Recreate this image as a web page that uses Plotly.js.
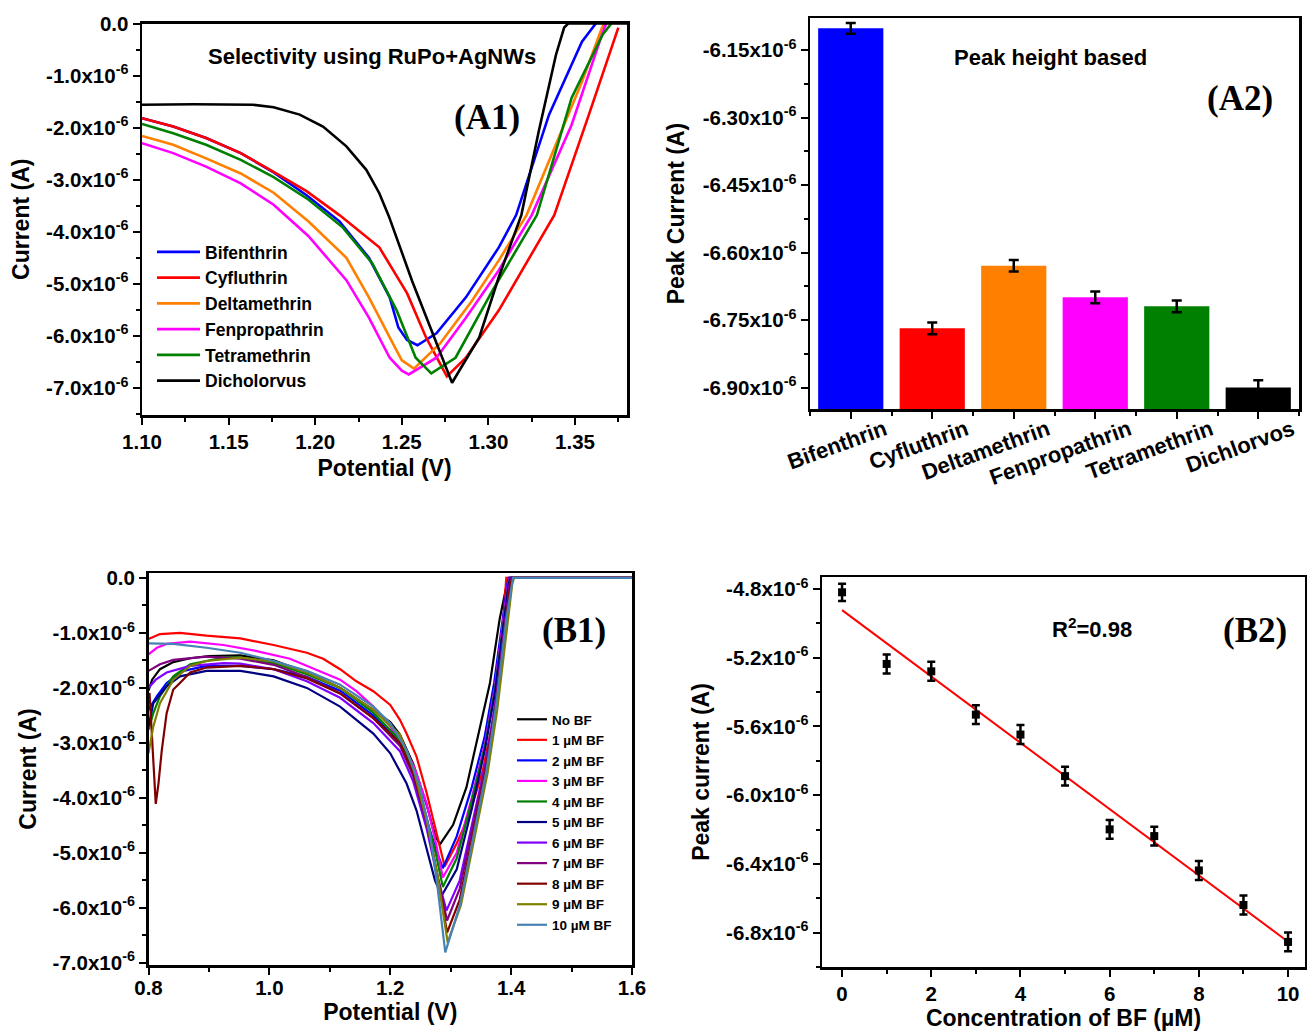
<!DOCTYPE html>
<html>
<head>
<meta charset="utf-8">
<script src="https://cdn.plot.ly/plotly-3.0.1.min.js"></script>
<style>
html,body{margin:0;padding:0;background:#fff;}
#chart{width:1307px;height:1031px;}
</style>
</head>
<body>
<div id="chart"></div>
<script>
// ================= DATA =================
// Panel A1: DPV curves (Potential in V, Current in units of 1e-6 A)
const a1Names = ['Bifenthrin','Cyfluthrin','Deltamethrin','Fenpropathrin','Tetramethrin','Dicholorvus'];
const a1Colors = ['#0000FF','#FF0000','#FF8000','#FF00FF','#008000','#000000'];
const a1_bif_V = [1.10,1.118,1.137,1.157,1.176,1.195,1.214,1.231,1.243,1.248,1.253,1.259,1.270,1.287,1.306,1.316,1.335,1.354,1.362];
const a1_bif_I = [-1.82,-1.98,-2.20,-2.49,-2.86,-3.30,-3.80,-4.50,-5.26,-5.84,-6.08,-6.18,-5.95,-5.26,-4.30,-3.68,-1.75,-0.35,0];
const a1_cyf_V = [1.10,1.118,1.137,1.157,1.176,1.195,1.214,1.225,1.237,1.253,1.264,1.276,1.287,1.306,1.338,1.358,1.375];
const a1_cyf_I = [-1.82,-1.98,-2.20,-2.49,-2.85,-3.22,-3.68,-3.97,-4.30,-5.18,-6.03,-6.78,-6.42,-5.51,-3.68,-1.75,-0.08];
const a1_del_V = [1.10,1.118,1.137,1.157,1.176,1.196,1.218,1.231,1.243,1.250,1.257,1.272,1.290,1.306,1.322,1.354,1.3656,1.367];
const a1_del_I = [-2.16,-2.33,-2.59,-2.88,-3.25,-3.80,-4.50,-5.26,-6.03,-6.47,-6.63,-6.15,-5.35,-4.55,-3.68,-1.12,-0.08,0];
const a1_fen_V = [1.10,1.118,1.137,1.157,1.176,1.196,1.218,1.231,1.243,1.250,1.254,1.270,1.287,1.306,1.325,1.348,1.3656,1.368];
const a1_fen_I = [-2.30,-2.49,-2.75,-3.07,-3.48,-4.08,-4.93,-5.65,-6.42,-6.67,-6.74,-6.42,-5.65,-4.74,-3.68,-1.95,-0.21,0];
const a1_tet_V = [1.10,1.118,1.137,1.157,1.176,1.196,1.216,1.233,1.247,1.258,1.267,1.281,1.302,1.328,1.348,1.366,1.371];
const a1_tet_I = [-1.93,-2.11,-2.33,-2.62,-2.95,-3.38,-3.92,-4.61,-5.51,-6.42,-6.72,-6.42,-5.15,-3.68,-1.43,-0.21,0];
const a1_dic_V = [1.10,1.13,1.164,1.176,1.191,1.2045,1.218,1.2295,1.237,1.2425,1.256,1.270,1.279,1.2947,1.306,1.319,1.329,1.339,1.3437,1.346,1.38];
const a1_dic_I = [-1.56,-1.55,-1.56,-1.61,-1.75,-1.98,-2.36,-2.81,-3.26,-3.70,-4.95,-6.15,-6.90,-6.03,-4.87,-3.68,-2.08,-0.60,-0.08,0,0];

// Panel A2: peak currents (units of 1e-6 A)
const a2Categories = ['Bifenthrin','Cyfluthrin','Deltamethrin','Fenpropathrin','Tetramethrin','Dichlorvos'];
const a2Values = [-6.102,-6.768,-6.629,-6.699,-6.719,-6.899];
const a2Errors = [0.012,0.013,0.013,0.013,0.013,0.016];
const a2Colors = ['#0000FF','#FF0000','#FF8000','#FF00FF','#008000','#000000'];

// Panel B1: DPV curves at different BF concentrations
const b1Names = ['No BF','1 µM BF','2 µM BF','3 µM BF','4 µM BF','5 µM BF','6 µM BF','7 µM BF','8 µM BF','9 µM BF','10 µM BF'];
const b1Colors = ['#000000','#FF0000','#0000FF','#FF00FF','#008000','#000080','#8000FF','#800080','#800000','#808000','#4682B4'];
const b1_0_V = [0.800,0.806,0.819,0.841,0.869,0.90,0.952,1.007,1.062,1.117,1.172,1.20,1.216,1.238,1.260,1.274,1.282,1.304,1.326,1.348,1.365,1.381,1.395,1.60];
const b1_0_I = [-2.05,-1.85,-1.66,-1.53,-1.46,-1.42,-1.41,-1.50,-1.72,-2.00,-2.40,-2.62,-2.85,-3.38,-4.12,-4.67,-4.85,-4.49,-3.81,-2.77,-1.91,-0.75,0,0];
const b1_1_V = [0.800,0.819,0.852,0.896,0.952,1.007,1.062,1.089,1.117,1.144,1.172,1.20,1.216,1.227,1.2435,1.260,1.276,1.290,1.309,1.331,1.353,1.370,1.381,1.389,1.392,1.60];
const b1_1_I = [-1.11,-1.02,-1.00,-1.05,-1.10,-1.22,-1.36,-1.47,-1.66,-1.88,-2.06,-2.31,-2.58,-2.83,-3.25,-3.90,-4.61,-5.25,-4.85,-4.30,-3.51,-2.59,-1.67,-0.45,0,0];
const b1_2_V = [0.800,0.814,0.830,0.858,0.896,0.952,1.007,1.062,1.117,1.172,1.216,1.238,1.260,1.276,1.287,1.310,1.335,1.356,1.372,1.385,1.394,1.397,1.60];
const b1_2_I = [-2.40,-2.15,-1.91,-1.69,-1.60,-1.60,-1.66,-1.80,-2.05,-2.50,-3.00,-3.55,-4.40,-4.95,-5.28,-4.70,-3.80,-2.90,-1.90,-0.80,-0.10,0,0];
const b1_3_V = [0.800,0.814,0.830,0.869,0.924,0.979,1.034,1.089,1.117,1.144,1.172,1.20,1.227,1.240,1.260,1.275,1.287,1.310,1.335,1.357,1.373,1.386,1.395,1.398,1.60];
const b1_3_I = [-1.39,-1.27,-1.20,-1.16,-1.22,-1.33,-1.47,-1.72,-1.85,-2.06,-2.34,-2.70,-3.16,-3.45,-4.10,-4.80,-5.45,-5.00,-4.00,-3.00,-2.00,-0.85,-0.10,0,0];
const b1_4_V = [0.800,0.808,0.819,0.841,0.869,0.924,0.952,1.007,1.062,1.117,1.172,1.216,1.238,1.260,1.276,1.287,1.310,1.335,1.357,1.373,1.386,1.396,1.399,1.60];
const b1_4_I = [-2.76,-2.46,-2.15,-1.79,-1.57,-1.45,-1.45,-1.55,-1.75,-2.00,-2.45,-2.95,-3.50,-4.35,-5.05,-5.62,-5.10,-4.05,-3.05,-2.05,-0.95,-0.10,0,0];
const b1_5_V = [0.800,0.808,0.830,0.852,0.896,0.952,1.007,1.062,1.117,1.172,1.20,1.227,1.2435,1.260,1.274,1.285,1.310,1.335,1.357,1.373,1.386,1.396,1.399,1.60];
const b1_5_I = [-2.70,-2.28,-1.97,-1.79,-1.69,-1.69,-1.79,-2.00,-2.34,-2.83,-3.19,-3.74,-4.23,-4.90,-5.50,-5.78,-5.30,-4.20,-3.10,-2.10,-0.95,-0.10,0,0];
const b1_6_V = [0.800,0.812,0.830,0.869,0.924,0.952,1.007,1.062,1.117,1.172,1.216,1.238,1.260,1.276,1.293,1.315,1.337,1.359,1.375,1.388,1.398,1.401,1.60];
const b1_6_I = [-2.00,-1.85,-1.72,-1.60,-1.55,-1.56,-1.66,-1.88,-2.18,-2.64,-3.15,-3.70,-4.55,-5.35,-6.05,-5.50,-4.40,-3.30,-2.20,-1.00,-0.10,0,0];
const b1_7_V = [0.800,0.819,0.841,0.896,0.952,1.007,1.062,1.117,1.172,1.216,1.238,1.260,1.276,1.294,1.315,1.337,1.359,1.375,1.388,1.398,1.401,1.60];
const b1_7_I = [-1.69,-1.57,-1.49,-1.43,-1.47,-1.58,-1.80,-2.10,-2.55,-3.05,-3.60,-4.45,-5.30,-6.23,-5.65,-4.50,-3.35,-2.25,-1.00,-0.10,0,0];
const b1_8_V = [0.8017,0.8083,0.812,0.8165,0.822,0.830,0.841,0.852,0.869,0.896,0.952,1.007,1.062,1.117,1.172,1.216,1.238,1.260,1.276,1.294,1.315,1.337,1.359,1.375,1.389,1.399,1.402,1.60];
const b1_8_I = [-2.09,-3.25,-4.11,-3.74,-3.13,-2.46,-2.03,-1.91,-1.72,-1.63,-1.60,-1.66,-1.83,-2.10,-2.55,-3.00,-3.55,-4.40,-5.30,-6.45,-5.85,-4.65,-3.45,-2.30,-1.00,-0.10,0,0];
const b1_9_V = [0.800,0.808,0.819,0.841,0.869,0.896,0.952,1.007,1.062,1.117,1.172,1.216,1.238,1.260,1.278,1.295,1.317,1.339,1.361,1.377,1.391,1.402,1.405,1.60];
const b1_9_I = [-3.19,-2.70,-2.28,-1.85,-1.60,-1.51,-1.45,-1.52,-1.72,-2.00,-2.40,-2.85,-3.45,-4.40,-5.40,-6.63,-5.95,-4.75,-3.55,-2.40,-1.05,-0.10,0,0];
const b1_10_V = [0.800,0.841,0.896,0.952,1.007,1.062,1.117,1.172,1.20,1.227,1.249,1.265,1.278,1.291,1.315,1.337,1.359,1.3755,1.392,1.403,1.60];
const b1_10_I = [-1.19,-1.20,-1.27,-1.36,-1.51,-1.69,-1.94,-2.34,-2.64,-3.13,-3.80,-4.60,-5.60,-6.81,-5.96,-4.73,-3.51,-2.28,-0.75,0,0];

// Panel B2: calibration (concentration in µM, peak current in 1e-6 A)
const b2Conc = [0,1,2,3,4,5,6,7,8,9,10];
const b2Peak = [-4.819,-5.236,-5.279,-5.531,-5.647,-5.889,-6.199,-6.238,-6.438,-6.639,-6.854];
const b2Err = [0.05,0.055,0.055,0.055,0.055,0.055,0.055,0.055,0.055,0.055,0.055];

// ================= BUILD =================
const W = 1307, H = 1031;
const FONT = 'Liberation Sans, Arial, sans-serif';
const SERIF = 'Liberation Serif, Times New Roman, serif';
const dx = (a, b) => [a / W, b / W];
const dy = (top, bottom) => [1 - bottom / H, 1 - top / H];
const sci = (v, d) => v === 0 ? '0.0' : v.toFixed(d) + 'x10<sup>-6</sup>';

const a1Sets = [[a1_bif_V,a1_bif_I],[a1_cyf_V,a1_cyf_I],[a1_del_V,a1_del_I],[a1_fen_V,a1_fen_I],[a1_tet_V,a1_tet_I],[a1_dic_V,a1_dic_I]];
const b1Sets = [[b1_0_V,b1_0_I],[b1_1_V,b1_1_I],[b1_2_V,b1_2_I],[b1_3_V,b1_3_I],[b1_4_V,b1_4_I],[b1_5_V,b1_5_I],[b1_6_V,b1_6_I],[b1_7_V,b1_7_I],[b1_8_V,b1_8_I],[b1_9_V,b1_9_I],[b1_10_V,b1_10_I]];

const traces = [];
a1Sets.forEach((s, i) => traces.push({
  type: 'scatter', mode: 'lines', x: s[0], y: s[1], name: a1Names[i],
  line: {color: a1Colors[i], width: 2.6}, xaxis: 'x', yaxis: 'y', legend: 'legend'
}));

const a2Range = [-6.947, -6.079];
const a2Idx = a2Categories.map((c, i) => i);
traces.push({
  type: 'bar', x: a2Idx, y: a2Values.map(v => v - a2Range[0]), base: a2Range[0],
  marker: {color: a2Colors, line: {width: 0}}, width: 0.8,
  xaxis: 'x2', yaxis: 'y2', showlegend: false, hoverinfo: 'skip'
});
traces.push({
  type: 'scatter', mode: 'markers', x: a2Idx, y: a2Values,
  marker: {size: 1, color: 'rgba(0,0,0,0)'},
  error_y: {type: 'data', array: a2Errors, color: '#000', thickness: 2.5, width: 5},
  xaxis: 'x2', yaxis: 'y2', showlegend: false
});

b1Sets.forEach((s, i) => traces.push({
  type: 'scatter', mode: 'lines', x: s[0], y: s[1], name: b1Names[i],
  line: {color: b1Colors[i], width: 2.2}, xaxis: 'x3', yaxis: 'y3', legend: 'legend2'
}));

// linear regression for B2 fit line
const n = b2Conc.length;
const mx = b2Conc.reduce((a, b) => a + b, 0) / n;
const my = b2Peak.reduce((a, b) => a + b, 0) / n;
let sxy = 0, sxx = 0;
for (let i = 0; i < n; i++) { sxy += (b2Conc[i] - mx) * (b2Peak[i] - my); sxx += (b2Conc[i] - mx) ** 2; }
const slope = sxy / sxx, icpt = my - slope * mx;
const fitX = [Math.min(...b2Conc), Math.max(...b2Conc)];
traces.push({
  type: 'scatter', mode: 'lines', x: fitX, y: fitX.map(x => icpt + slope * x),
  line: {color: '#FF0000', width: 2}, xaxis: 'x4', yaxis: 'y4', showlegend: false
});
traces.push({
  type: 'scatter', mode: 'markers', x: b2Conc, y: b2Peak,
  marker: {symbol: 'square', size: 8, color: '#000'},
  error_y: {type: 'data', array: b2Err, color: '#000', thickness: 2.5, width: 4},
  xaxis: 'x4', yaxis: 'y4', showlegend: false
});

const tickFont = {family: FONT, size: 20.5, color: '#000', weight: 'bold'};
const titleFont = {family: FONT, size: 23, color: '#000', weight: 'bold'};
function ax(extra) {
  return Object.assign({
    showline: true, linecolor: '#000', linewidth: 2.5, mirror: true,
    ticks: 'outside', ticklen: 7, tickwidth: 2, tickcolor: '#000',
    showgrid: false, zeroline: false, tickfont: tickFont, fixedrange: true
  }, extra);
}
function minor(tick0, dtick) {
  return {ticks: 'outside', ticklen: 4, tickwidth: 2, tickcolor: '#000', tick0: tick0, dtick: dtick, showgrid: false};
}

const a1Yticks = [0,-1,-2,-3,-4,-5,-6,-7];
const a2Yticks = [-6.15,-6.30,-6.45,-6.60,-6.75,-6.90];
const b2Yticks = [-4.8,-5.2,-5.6,-6.0,-6.4,-6.8];

const bigLabel = {family: SERIF, size: 35, color: '#000', weight: 'bold'};
const note = {family: FONT, size: 22, color: '#000', weight: 'bold'};
function ann(text, x, y, font) {
  return {text: text, x: x / W, y: 1 - y / H, xref: 'paper', yref: 'paper', xanchor: 'center', yanchor: 'middle', showarrow: false, font: font};
}

const layout = {
  width: W, height: H,
  margin: {l: 0, r: 0, t: 0, b: 0},
  paper_bgcolor: '#fff', plot_bgcolor: '#fff',
  font: {family: FONT, color: '#000'},
  xaxis: ax({domain: dx(142, 627), anchor: 'y', range: [1.10, 1.38], dtick: 0.05, tick0: 1.10, tickformat: '.2f',
    minor: minor(1.10, 0.025), title: {text: 'Potential (V)', font: titleFont, standoff: 8}}),
  yaxis: ax({domain: dy(23.5, 415), anchor: 'x', range: [-7.52, 0], tickmode: 'array', tickvals: a1Yticks,
    ticktext: a1Yticks.map(v => sci(v, 1)), minor: minor(0, 0.5), title: {text: 'Current (A)', font: titleFont, standoff: 10}}),
  xaxis2: ax({domain: dx(810, 1299), anchor: 'y2', range: [-0.5, 5.5], tickmode: 'array', tickvals: a2Idx,
    ticktext: a2Categories, tickangle: -20, ticklabelshift: 34, ticklabelstandoff: -10, minor: minor(0.5, 1),
    tickfont: Object.assign({}, tickFont, {size: 22})}),
  yaxis2: ax({domain: dy(18, 409), anchor: 'x2', range: a2Range, tickmode: 'array', tickvals: a2Yticks,
    ticktext: a2Yticks.map(v => sci(v, 2)), minor: minor(-6.15, 0.075), title: {text: 'Peak Current (A)', font: titleFont, standoff: 12}}),
  xaxis3: ax({domain: dx(148.5, 632), anchor: 'y3', range: [0.8, 1.6], dtick: 0.2, tick0: 0.8, tickformat: '.1f',
    ticklabelstandoff: -4, minor: minor(0.8, 0.1), title: {text: 'Potential (V)', font: titleFont, standoff: 4}}),
  yaxis3: ax({domain: dy(573, 965), anchor: 'x3', range: [-7.04, 0.09], tickmode: 'array', tickvals: a1Yticks,
    ticktext: a1Yticks.map(v => sci(v, 1)), minor: minor(0, 0.5), title: {text: 'Current (A)', font: titleFont, standoff: 10}}),
  xaxis4: ax({domain: dx(822, 1305), anchor: 'y4', range: [-0.45, 10.38], dtick: 2, tick0: 0,
    minor: minor(0, 1), title: {text: 'Concentration of BF (µM)', font: titleFont, standoff: 6}}),
  yaxis4: ax({domain: dy(577, 967), anchor: 'x4', range: [-7.0, -4.73], tickmode: 'array', tickvals: b2Yticks,
    ticktext: b2Yticks.map(v => sci(v, 1)), minor: minor(-4.8, 0.2), title: {text: 'Peak current (A)', font: titleFont, standoff: 10}}),
  legend: {x: 152 / W, y: 1 - 234 / H, xanchor: 'left', yanchor: 'top', bgcolor: 'rgba(0,0,0,0)', itemwidth: 43,
    font: {family: FONT, size: 17.5, color: '#000', weight: 'bold'}, tracegroupgap: 0},
  legend2: {x: 512 / W, y: 1 - 704 / H, xanchor: 'left', yanchor: 'top', bgcolor: 'rgba(0,0,0,0)',
    font: {family: FONT, size: 13.5, color: '#000', weight: 'bold'}, tracegroupgap: 0},
  annotations: [
    ann('Selectivity using RuPo+AgNWs', 372, 56, note),
    ann('(A1)', 487, 117, bigLabel),
    ann('Peak height based', 1050, 58, note),
    ann('(A2)', 1240, 98, bigLabel),
    ann('(B1)', 574, 630, bigLabel),
    ann('R<sup>2</sup>=0.98', 1092, 628, note),
    ann('(B2)', 1255, 630, bigLabel)
  ]
};

Plotly.newPlot('chart', traces, layout, {staticPlot: true, displayModeBar: false});
</script>
</body>
</html>
